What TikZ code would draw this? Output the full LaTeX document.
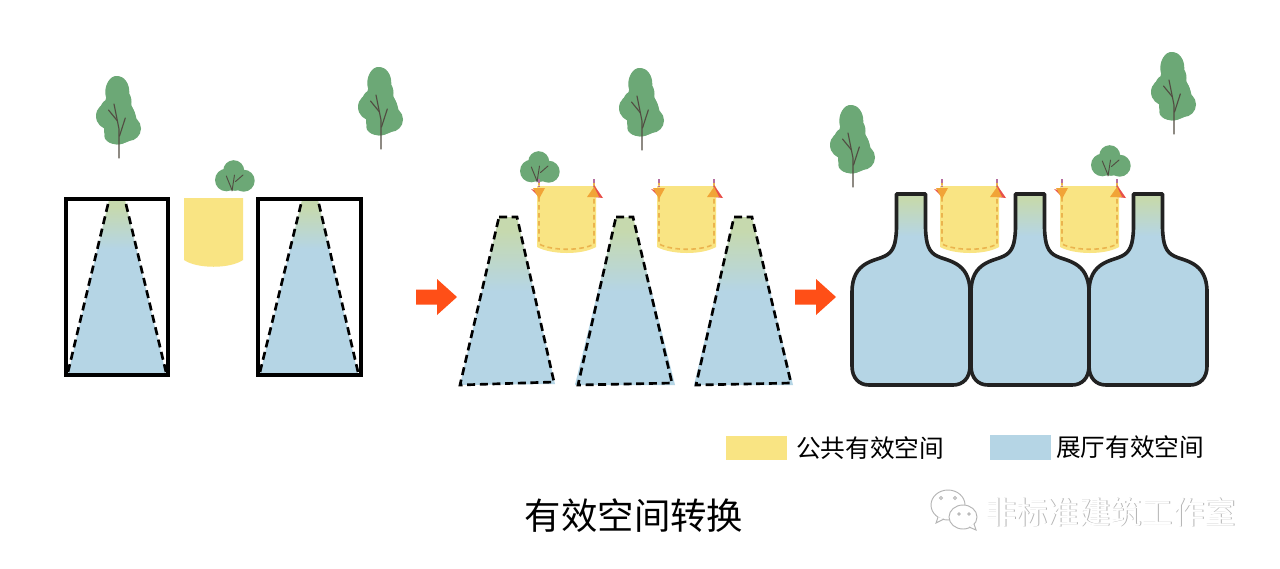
\documentclass[tikz,border=0pt]{standalone}
\usepackage{fontspec}
\newfontfamily\cjk{Noto Sans CJK SC}
\definecolor{hallblue}{HTML}{B5D5E5}
\definecolor{hallgreen}{HTML}{C6D9AE}
\definecolor{pubyellow}{HTML}{F9E483}
\definecolor{leaf}{HTML}{6CA876}
\definecolor{bark}{HTML}{524C42}
\definecolor{flow}{HTML}{FF4F17}
\definecolor{dashorange}{HTML}{EBB44E}
\definecolor{tipred}{HTML}{E8504A}
\definecolor{dashpurple}{HTML}{B56FA0}
\definecolor{inkdark}{HTML}{222222}
\definecolor{wmgrey}{HTML}{B4B4B4}
\pgfdeclareverticalshading{trapshadea}{100bp}{color(0bp)=(hallblue); color(61bp)=(hallblue); color(73bp)=(hallgreen); color(100bp)=(hallgreen)}
\pgfdeclareverticalshading{trapshadeb}{100bp}{color(0bp)=(hallblue); color(53bp)=(hallblue); color(71bp)=(hallgreen); color(100bp)=(hallgreen)}
\pgfdeclareverticalshading{neckshade}{100bp}{color(0bp)=(hallblue); color(64bp)=(hallblue); color(73.5bp)=(hallgreen); color(100bp)=(hallgreen)}
\tikzset{
  x=0.75pt,y=-0.75pt,
  trapfilla/.style={shading=trapshadea,draw=none},
  trapfillb/.style={shading=trapshadeb,draw=none},
  trapline/.style={draw=black,line width=2pt,dash pattern=on 6pt off 3.5pt},
  roomframe/.style={draw=black,line width=3pt,fill=none},
  flowarrow/.style={fill=flow,draw=none},
  caption/.style={font=\cjk,inner sep=0pt,text=black},
  branch/.style={draw=bark,line width=0.85pt,line cap=round},
  pubdash/.style={draw=dashorange,line width=1.2pt,dash pattern=on 3.5pt off 2.5pt},
  tree/.pic={
    \fill[leaf] plot[smooth cycle,tension=0.7] coordinates {(-1.7,-82)(8.3,-74.3)(10.5,-57.7)(16,-44.3)(19,-29.3)(14.3,-19.3)(-2.3,-13.7)(-14,-19.3)(-13.5,-31)(-21,-41)(-17,-54.3)(-11,-61)(-10.7,-76)};
    \fill[leaf] (-1.7,-66) ellipse[x radius=12,y radius=16];
    \fill[leaf] (-0.5,-56) ellipse[x radius=13,y radius=15];
    \fill[leaf] (-9.5,-42) ellipse[x radius=13.5,y radius=13.5];
    \fill[leaf] (2,-38) ellipse[x radius=15,y radius=19];
    \fill[leaf] (9.5,-29.5) ellipse[x radius=12.5,y radius=12.5];
    \fill[leaf] (-1,-28) ellipse[x radius=14,y radius=14.5];
    \draw[branch] (0,0) -- (0,-29) -- (-5,-54);
    \draw[branch] (0.5,-22) -- (6.3,-40);
    \draw[branch] (-1.5,-37) -- (-10.5,-48);
  },
  bush/.pic={
    \fill[leaf] (-5.7,-11) circle[radius=11.3];
    \fill[leaf] (1.7,-20.3) circle[radius=10.5];
    \fill[leaf] (11.7,-10.3) circle[radius=11];
    \fill[leaf] (3,-8.5) ellipse[x radius=12,y radius=8.3];
    \draw[branch,line width=0.7pt] (0,0) -- (2.5,-16);
    \draw[branch,line width=0.7pt] (-5.7,-15) -- (0,-1);
    \draw[branch,line width=0.7pt] (3.5,-9.5) -- (11,-16);
  },
  pocket/.pic={
    \fill[pubyellow] (0,0) -- (59,0) -- (59,61) .. controls (45,69) and (15,69) .. (0,61) -- cycle;
    \draw[pubdash] (2,-5) -- (2,58) .. controls (15,65) and (45,65) .. (57,58) -- (57,-6);
    \draw[dashpurple,line width=1.1pt,dash pattern=on 3pt off 2pt] (2,-7) -- (2,0);
    \draw[dashpurple,line width=1.1pt,dash pattern=on 3pt off 2pt] (57,-7) -- (57,0);
    \fill[tipred] (-6,3) -- (2,5) -- (2,11) -- cycle;
    \fill[dashorange!70!orange] (-4,2) -- (8,2) -- (2,13) -- cycle;
    \fill[tipred] (57,-1) -- (66,12) -- (57,11) -- cycle;
    \fill[dashorange!70!orange] (57,1) -- (62,11) -- (50,11) -- cycle;
  },
  bottle/.pic={
    \path[shade,shading=neckshade,draw=inkdark,line width=2.7pt,line join=round]
      (-14.5,194) -- (14.5,194) -- (14.5,228) .. controls (15,245) and (18,252) .. (26,256)
      .. controls (35,261) and (59,261) .. (59,292) -- (59,366)
      .. controls (59,378) and (52,385) .. (42,385) -- (-42,385)
      .. controls (-52,385) and (-59,378) .. (-59,366) -- (-59,292)
      .. controls (-59,261) and (-35,261) .. (-26,256)
      .. controls (-18,252) and (-15,245) .. (-14.5,228) -- cycle;
  },
  flowshape/.pic={
    \fill[flowarrow] (0,-7.5) -- (21,-7.5) -- (21,-18) -- (41,0) -- (21,18) -- (21,7.5) -- (0,7.5) -- cycle;
  },
}
\begin{document}
\begin{tikzpicture}
\useasboundingbox (0,0) rectangle (1280,568);
\fill[white] (0,0) rectangle (1280,568);

% trees and bushes
\pic at (119,158) {tree};
\pic at (381,149) {tree};
\pic at (642,150) {tree};
\pic at (853,187) {tree};
\pic at (1174,134) {tree};
\pic at (232,191) {bush};
\pic at (537,182) {bush};
\pic at (1108,176) {bush};

% first stage
\path[trapfilla] (109,200) -- (125,200) -- (166,374) -- (68,374) -- cycle;
\draw[trapline] (68,372) -- (109,200);
\draw[trapline] (166,372) -- (125,200);
\path[trapfilla] (302,200) -- (318,200) -- (358,374) -- (260,374) -- cycle;
\draw[trapline] (260,372) -- (302,200);
\draw[trapline] (358,372) -- (318,200);
\path[roomframe] (66,199) rectangle (168,374.5);
\path[roomframe] (258,199) rectangle (361,374.5);
\fill[pubyellow] (184,198) -- (243,198) -- (243,260) .. controls (230,269) and (197,269) .. (184,260) -- cycle;

% flow arrows
\pic at (416,297) {flowshape};
\pic at (795,297) {flowshape};

% second stage
\pic at (537,186) {pocket};
\pic at (657,186) {pocket};
\path[trapfillb] (499,217) -- (517,217) -- (555,384) -- (460,385) -- cycle;
\path[trapline] (499,217) -- (517,217) -- (554,382) -- (460,385) -- cycle;
\path[trapfillb] (616,217) -- (633,217) -- (675,385) -- (575,385) -- cycle;
\path[trapline] (616,217) -- (633,217) -- (672,383) -- (578,385) -- cycle;
\path[trapfillb] (734,217) -- (752,217) -- (793,385) -- (694,385) -- cycle;
\path[trapline] (734,217) -- (752,217) -- (791,383) -- (696,385) -- cycle;

% third stage
\pic at (940,186) {pocket};
\pic at (1060,186) {pocket};
\pic at (911,0) {bottle};
\pic at (1030,0) {bottle};
\pic at (1148,0) {bottle};

% legend
\fill[pubyellow] (726,436) rectangle (787,460);
\node[caption,font=\cjk\fontsize{18.5pt}{20pt}\selectfont,anchor=west] (pubtext) at (796,448) {公共有效空间};
\fill[hallblue] (990,435) rectangle (1051,460);
\node[caption,font=\cjk\fontsize{18.5pt}{20pt}\selectfont,anchor=west] (halltext) at (1056,447) {展厅有效空间};

% title
\node[caption,font=\cjk\fontsize{27.3pt}{30pt}\selectfont] (title) at (634,516) {有效空间转换};

% watermark
\begin{scope}[draw=wmgrey,line width=0.7pt,fill=white]
  \path[draw,fill] (948,505) ellipse[x radius=17,y radius=15];
  \path[draw,fill] (938,517) -- (936,523) -- (944,519);
  \path[draw,fill] (963,517) ellipse[x radius=14,y radius=12];
  \path[draw,fill] (969,527) -- (976,530) -- (974,524);
  \path[draw] (941,498) circle[radius=1.5];
  \path[draw] (955,498) circle[radius=1.5];
  \path[draw] (959,514) circle[radius=1.2];
  \path[draw] (969,514) circle[radius=1.2];
\end{scope}
\node[caption,text=wmgrey,font=\cjk\fontsize{23.5pt}{26pt}\selectfont,anchor=west] (wmshadow) at (985.8,512.8) {非标准建筑工作室};
\node[caption,text=white,font=\cjk\fontsize{23.5pt}{26pt}\selectfont,anchor=west] (wmtext) at (985,512) {非标准建筑工作室};
\end{tikzpicture}
\end{document}
